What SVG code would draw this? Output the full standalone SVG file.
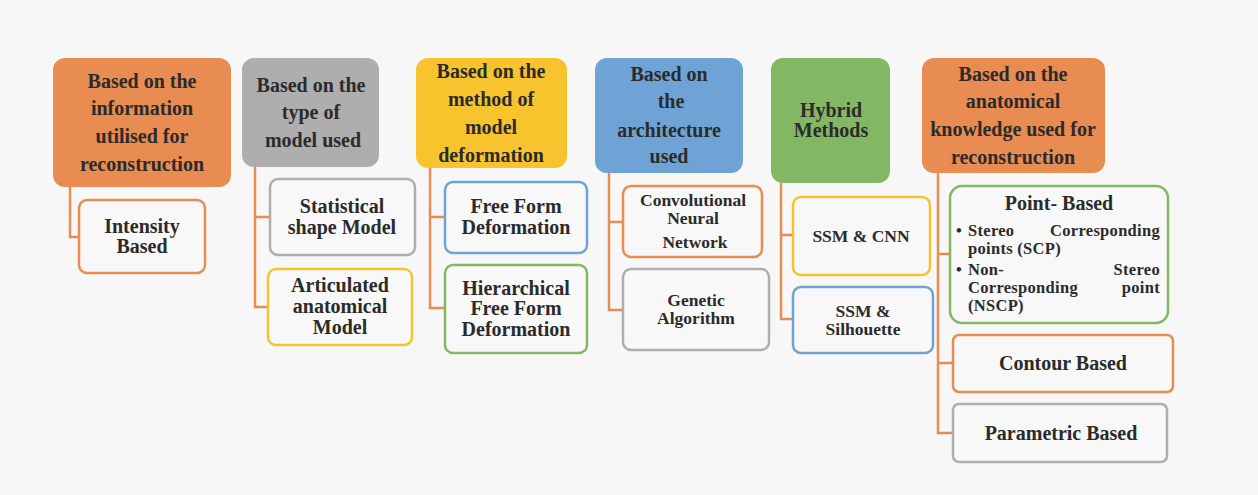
<svg xmlns="http://www.w3.org/2000/svg" width="1258" height="495" viewBox="0 0 1258 495">
<style>
text{font-family:"Liberation Serif","Times New Roman",serif;font-weight:bold;fill:#2B2B2B;font-size:20px;text-anchor:middle}
text.s{font-size:17.5px}
text.p{font-size:16.5px;letter-spacing:0.3px}
text.l{text-anchor:start}
text.r{text-anchor:end}
.box{fill:#F8F8F8;stroke-width:2.5}
.or{fill:#E88C52}
.gy{fill:#AEAEAE}
.yl{fill:#F7C42E}
.bl{fill:#6FA3D5}
.gn{fill:#83B764}
.sor{stroke:#E88C52}
.sgy{stroke:#AEAEAE}
.syl{stroke:#F7C42E}
.sbl{stroke:#6FA3D5}
.sgn{stroke:#83B764}
#connectors path{fill:none;stroke:#E88C52;stroke-width:2.5}
</style>
<rect width="1258" height="495" fill="#F7F7F7"/>
<g id="connectors">
<path d="M70 187 V237 H80"/>
<path d="M255 167 V307 H269 M255 217 H270"/>
<path d="M430 168 V308 H445 M430 217 H445"/>
<path d="M609 173 V310 H623 M609 222 H623"/>
<path d="M781 183 V319 H793 M781 235 H793"/>
<path d="M938 173 V433 H953 M938 254 H950 M938 363 H953"/>
</g>
<g id="h1"><rect class="or" x="53" y="58" width="178" height="129" rx="12"/>
<text x="142" y="88">Based on the</text><text x="142" y="115">information</text><text x="142" y="143">utilised for</text><text x="142" y="171">reconstruction</text></g>
<g id="n-intensity"><rect class="box sor" x="79" y="200" width="126" height="73" rx="8"/>
<text x="142" y="233">Intensity</text><text x="142" y="253">Based</text></g>
<g id="h2"><rect class="gy" x="242" y="58" width="137" height="109" rx="12"/>
<text x="311" y="92">Based on the</text><text x="311" y="119">type of</text><text x="313" y="147">model used</text></g>
<g id="n-ssm"><rect class="box sgy" x="270" y="179" width="145" height="76" rx="8"/>
<text x="342" y="213">Statistical</text><text x="342" y="234">shape Model</text></g>
<g id="n-art"><rect class="box syl" x="268" y="269" width="144" height="76" rx="8"/>
<text x="340" y="292">Articulated</text><text x="340" y="313">anatomical</text><text x="340" y="334">Model</text></g>
<g id="h3"><rect class="yl" x="416" y="58" width="151" height="110" rx="12"/>
<text x="491" y="78">Based on the</text><text x="491" y="106">method of</text><text x="491" y="134">model</text><text x="491" y="162">deformation</text></g>
<g id="n-ffd"><rect class="box sbl" x="445" y="182" width="142" height="71" rx="8"/>
<text x="516" y="213">Free Form</text><text x="516" y="234">Deformation</text></g>
<g id="n-hffd"><rect class="box sgn" x="445" y="265" width="142" height="88" rx="8"/>
<text x="516" y="295">Hierarchical</text><text x="516" y="315">Free Form</text><text x="516" y="336">Deformation</text></g>
<g id="h4"><rect class="bl" x="595" y="58" width="148" height="115" rx="12"/>
<text x="669" y="81">Based on</text><text x="671" y="108">the</text><text x="669" y="137">architecture</text><text x="669" y="163">used</text></g>
<g id="n-cnn"><rect class="box sor" x="623" y="186" width="139" height="71" rx="8"/>
<text class="s" x="693" y="206">Convolutional</text><text class="s" x="693" y="224">Neural</text><text class="s" x="695" y="248">Network</text></g>
<g id="n-ga"><rect class="box sgy" x="623" y="269" width="146" height="81" rx="8"/>
<text class="s" x="696" y="306">Genetic</text><text class="s" x="696" y="324">Algorithm</text></g>
<g id="h5"><rect class="gn" x="771" y="58" width="119" height="125" rx="12"/>
<text x="831" y="117">Hybrid</text><text x="831" y="137">Methods</text></g>
<g id="n-ssmcnn"><rect class="box syl" x="793" y="197" width="137" height="78" rx="8"/>
<text class="s" x="861" y="242">SSM &amp; CNN</text></g>
<g id="n-ssmsil"><rect class="box sbl" x="793" y="287" width="140" height="66" rx="8"/>
<text class="s" x="863" y="317">SSM &amp;</text><text class="s" x="863" y="335">Silhouette</text></g>
<g id="h6"><rect class="or" x="922" y="58" width="183" height="115" rx="12"/>
<text x="1013" y="81">Based on the</text><text x="1013" y="108">anatomical</text><text x="1013" y="136">knowledge used for</text><text x="1013" y="164">reconstruction</text></g>
<g id="n-point"><rect class="box sgn" x="950" y="186" width="218" height="137" rx="12"/>
<text x="1059" y="210">Point- Based</text>
<text class="p l" x="956" y="236">•</text><text class="p l" x="968" y="236">Stereo</text><text class="p r" x="1160" y="236">Corresponding</text>
<text class="p l" x="968" y="254">points (SCP)</text>
<text class="p l" x="956" y="275">•</text><text class="p l" x="968" y="275">Non-</text><text class="p r" x="1160" y="275">Stereo</text>
<text class="p l" x="968" y="293">Corresponding</text><text class="p r" x="1160" y="293">point</text>
<text class="p l" x="968" y="311">(NSCP)</text></g>
<g id="n-contour"><rect class="box sor" x="953" y="335" width="220" height="57" rx="6"/>
<text x="1063" y="370">Contour Based</text></g>
<g id="n-param"><rect class="box sgy" x="953" y="404" width="214" height="58" rx="6"/>
<text x="1061" y="440">Parametric Based</text></g>
</svg>
